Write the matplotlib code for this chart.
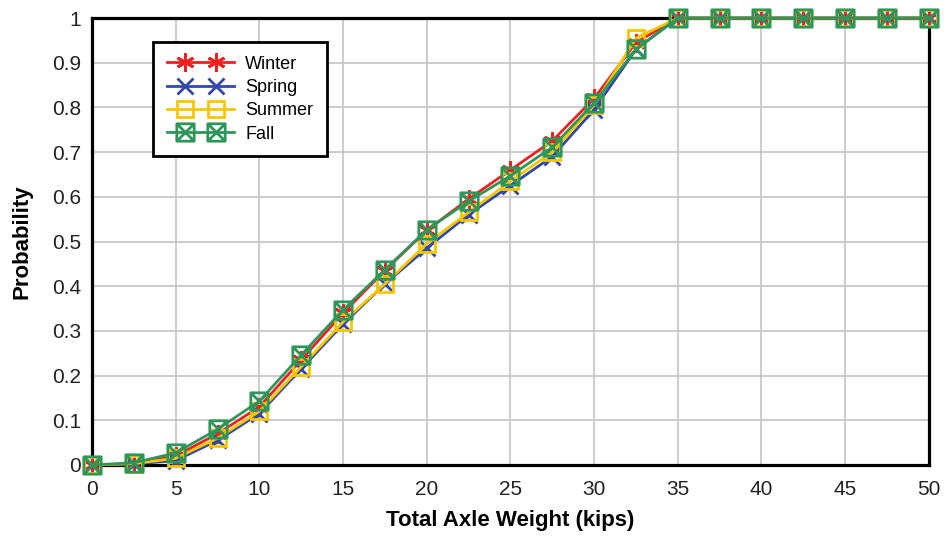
import matplotlib
matplotlib.use('Agg')
import matplotlib.pyplot as plt
from matplotlib.path import Path
from matplotlib.lines import Line2D
from matplotlib.legend_handler import HandlerLine2D
import numpy as np

plt.rcParams['font.family'] = ['Liberation Sans', 'DejaVu Sans']

weights = [0, 2.5, 5, 7.5, 10, 12.5, 15, 17.5, 20, 22.5, 25, 27.5, 30, 32.5, 35,
           37.5, 40, 42.5, 45, 47.5, 50]
winter = [0, 0.003, 0.02, 0.07, 0.13, 0.235, 0.34, 0.435, 0.525, 0.595, 0.66, 0.725,
          0.82, 0.945, 1.0, 1.0, 1.0, 1.0, 1.0, 1.0, 1.0]
spring = [0, 0.002, 0.01, 0.055, 0.115, 0.215, 0.315, 0.405, 0.485, 0.56, 0.625, 0.69,
          0.795, 0.93, 1.0, 1.0, 1.0, 1.0, 1.0, 1.0, 1.0]
summer = [0, 0.003, 0.015, 0.06, 0.12, 0.22, 0.32, 0.405, 0.495, 0.565, 0.635, 0.70,
          0.805, 0.955, 1.0, 1.0, 1.0, 1.0, 1.0, 1.0, 1.0]
fall = [0, 0.005, 0.027, 0.08, 0.143, 0.246, 0.347, 0.437, 0.526, 0.59, 0.647, 0.711,
        0.81, 0.93, 1.0, 1.0, 1.0, 1.0, 1.0, 1.0, 1.0]

xticks = np.arange(0, 51, 5)
yticks = np.round(np.arange(0, 1.01, 0.1), 1)
ylabels = ['0', '0.1', '0.2', '0.3', '0.4', '0.5', '0.6', '0.7', '0.8', '0.9', '1']

# square with an X inside for the Fall series
box_x = Path([(-1, -1), (1, -1), (1, 1), (-1, 1), (-1, -1),
              (-1, -1), (1, 1), (-1, 1), (1, -1)],
             [Path.MOVETO, Path.LINETO, Path.LINETO, Path.LINETO, Path.CLOSEPOLY,
              Path.MOVETO, Path.LINETO, Path.MOVETO, Path.LINETO])


# legend entry: full-length line with two markers set in from the ends
class TwoMarkHandler(HandlerLine2D):
    def create_artists(self, legend, orig_handle, xdescent, ydescent,
                       width, height, fontsize, trans):
        y = (height - ydescent) / 2
        x0, x1 = -xdescent, -xdescent + width
        line = Line2D([x0, x1], [y, y])
        self.update_prop(line, orig_handle, legend)
        line.set_marker('None')
        pad = 1.0 * fontsize
        marks = Line2D([x0 + pad, x1 - pad], [y, y])
        self.update_prop(marks, orig_handle, legend)
        marks.set_linestyle('None')
        line.set_transform(trans)
        marks.set_transform(trans)
        return [line, marks]


fig = plt.figure(figsize=(9.46, 5.38), dpi=100)
ax = fig.add_axes([0.0973, 0.1357, 0.8845, 0.8308])

ax.plot(weights, winter, color='#ee2020', lw=2, marker=(6, 2, 0), ms=13, mew=2,
        label='Winter', clip_on=False, zorder=3)
ax.plot(weights, spring, color='#3347a8', lw=2, marker='x', ms=12, mew=2,
        label='Spring', clip_on=False, zorder=4)
ax.plot(weights, summer, color='#f7c600', lw=2, marker='s', ms=12, mew=2,
        mfc='none', label='Summer', clip_on=False, zorder=5)
ax.plot(weights, fall, color='#2e9658', lw=2, marker=box_x, ms=12.5, mew=2,
        mfc='none', label='Fall', clip_on=False, zorder=6)

ax.set_xlim(0, 50)
ax.set_ylim(0, 1)
ax.set_xticks(xticks)
ax.set_yticks(yticks)
ax.set_yticklabels(ylabels)
ax.tick_params(length=0, labelsize=15, colors='#222222')
ax.tick_params(axis='x', pad=11)
ax.tick_params(axis='y', pad=8)
ax.grid(True, color='#c8c8c8', lw=1.3)
ax.set_axisbelow(True)
for s in ax.spines.values():
    s.set_linewidth(2.3)
    s.set_color('black')
    s.set_zorder(2.5)

ax.set_xlabel('Total Axle Weight (kips)', fontsize=16, fontweight='bold', labelpad=8)
ax.set_ylabel('Probability', fontsize=16, fontweight='bold', labelpad=14)

leg = ax.legend(loc='upper left', bbox_to_anchor=(0.073, 0.946),
                handler_map={Line2D: TwoMarkHandler()},
                fancybox=False, framealpha=1, edgecolor='black', fontsize=13,
                handlelength=3.75, handletextpad=0.6, labelspacing=0.35,
                borderpad=0.75, borderaxespad=0)
leg.get_frame().set_linewidth(2)

plt.savefig('out.png', dpi=100)
